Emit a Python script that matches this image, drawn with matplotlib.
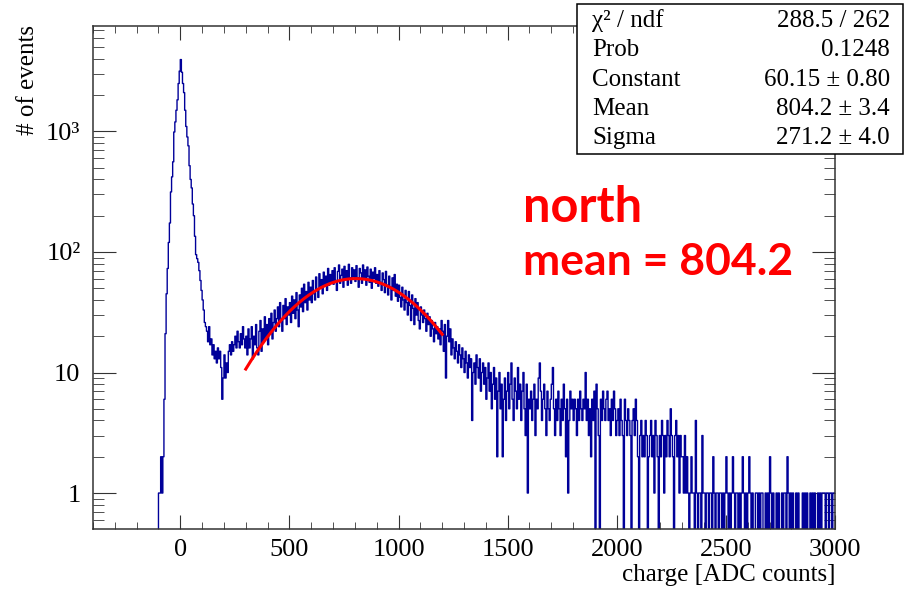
### PACKAGES ###
import numpy as np
import matplotlib
matplotlib.use('Agg')
import matplotlib.pyplot as plt
from matplotlib.ticker import MultipleLocator, LogLocator, FixedLocator, FixedFormatter, NullFormatter

### DATA ###
# histogram of charge, 5 ADC bins starting at -100
bin_start = -100
bin_width = 5
counts = [
    1, 1, 2, 1, 2, 6, 21, 45, 73, 120, 174, 315, 420, 560, 990, 1200, 1500, 1830, 2500, 3170,   # -100 .. 0
    3950, 3100, 2500, 2100, 1500, 1100, 900, 760, 520, 400, 340, 250, 200, 135, 95, 88, 82, 70, 58, 48,  # 0 .. 100
    40, 33, 26, 24, 22, 18, 24, 17, 19, 14, 17, 13, 15, 12, 16, 13, 15, 11, 6, 9,      # 100 .. 200
    14, 9, 12, 10, 15, 17, 14, 18, 15, 17, 20, 16, 22, 18, 16, 21, 17, 24, 19, 16,     # 200 .. 300
    20, 14, 23, 16, 19, 24, 13, 20, 17, 25, 16, 14, 22, 27, 15, 23, 18, 29, 19, 25,    # 300 .. 400
    17, 28, 21, 31, 19, 26, 33, 22, 28, 35, 24, 38, 27, 22, 36, 28, 41, 25, 35, 30,    # 400 .. 500
    38, 26, 43, 31, 40, 28, 46, 33, 24, 44, 35, 50, 32, 54, 38, 47, 33, 56, 40, 51,    # 500 .. 600
    38, 58, 45, 40, 62, 48, 42, 66, 50, 59, 45, 68, 52, 63, 48, 73, 53, 65, 55, 70,    # 600 .. 700
    54, 74, 58, 48, 69, 78, 55, 64, 72, 51, 76, 59, 70, 53, 79, 61, 55, 74, 62, 71,    # 700 .. 800
    57, 77, 61, 51, 73, 67, 55, 78, 60, 71, 53, 75, 63, 56, 72, 50, 68, 60, 74, 55,    # 800 .. 900
    65, 52, 70, 56, 48, 67, 59, 46, 69, 53, 44, 63, 51, 40, 61, 48, 65, 43, 54, 39,    # 900 .. 1000
    53, 42, 35, 51, 40, 33, 48, 38, 30, 47, 36, 27, 44, 34, 25, 41, 30, 38, 27, 23,    # 1000 .. 1100
    35, 30, 26, 33, 28, 22, 31, 25, 29, 20, 27, 23, 18, 26, 21, 24, 19, 23, 17, 27,    # 1100 .. 1200
    22, 15, 25, 9, 20, 27, 18, 23, 14, 19, 16, 13, 18, 15, 12, 17, 14, 11, 16, 13,     # 1200 .. 1300
    10, 15, 12, 9, 14, 11, 13, 4, 10, 12, 8, 14, 11, 9, 13, 7, 10, 12, 8, 11,          # 1300 .. 1400
    6, 9, 12, 7, 10, 5, 8, 11, 6, 9, 2, 7, 10, 5, 8, 2, 6, 9, 4, 7,                    # 1400 .. 1500
    10, 5, 8, 12, 6, 4, 9, 7, 5, 11, 6, 8, 4, 7, 10, 5, 3, 8, 1, 6,                    # 1500 .. 1600
    5, 7, 4, 6, 8, 3, 6, 5, 9, 12, 7, 4, 6, 8, 5, 3, 7, 5, 4, 6,                       # 1600 .. 1700
    8, 11, 5, 3, 6, 4, 7, 5, 3, 6, 4, 8, 5, 2, 6, 1, 4, 7, 5, 6,                       # 1700 .. 1800
    4, 6, 5, 3, 6, 4, 7, 5, 4, 6, 5, 10, 4, 6, 3, 5, 2, 6, 4, 7,                       # 1800 .. 1900
    0, 8, 5, 3, 0, 6, 4, 7, 5, 4, 6, 7, 4, 5, 3, 6, 4, 7, 5, 3,                        # 1900 .. 2000
    4, 5, 3, 6, 4, 3, 0, 6, 4, 3, 5, 4, 3, 0, 4, 5, 3, 6, 4, 2,                        # 2000 .. 2100
    0, 3, 4, 2, 3, 2, 4, 3, 0, 2, 3, 4, 2, 3, 1, 4, 3, 2, 0, 3,                        # 2100 .. 2200
    2, 4, 3, 1, 3, 2, 4, 3, 2, 5, 3, 2, 0, 3, 4, 2, 3, 1, 3, 2,                        # 2200 .. 2300
    2, 1, 3, 1, 2, 1, 0, 1, 2, 1, 1, 0, 4, 1, 0, 1, 1, 0, 3, 1,                        # 2300 .. 2400
    1, 0, 1, 1, 0, 1, 1, 0, 2, 1, 0, 1, 1, 0, 1, 1, 0, 1, 0, 1,                        # 2400 .. 2500
    2, 1, 0, 1, 0, 1, 2, 1, 0, 1, 1, 0, 1, 0, 1, 2, 1, 0, 1, 0,                        # 2500 .. 2600
    1, 2, 1, 0, 1, 0, 0, 1, 1, 0, 1, 0, 1, 1, 0, 0, 1, 0, 1, 0,                        # 2600 .. 2700
    2, 1, 0, 1, 0, 0, 1, 0, 1, 0, 0, 1, 0, 1, 1, 0, 2, 1, 0, 1,                        # 2700 .. 2800
    0, 1, 0, 0, 1, 0, 1, 0, 0, 0, 1, 0, 1, 0, 1, 0, 0, 1, 0, 1,                        # 2800 .. 2900
    0, 1, 0, 0, 1, 0, 1, 0, 1, 1, 1, 0, 1, 1, 0, 1, 1, 0, 1, 1,                        # 2900 .. 3000
]

# gaussian fit (values from the stats box)
fit_constant = 60.15
fit_mean = 804.2
fit_sigma = 271.2
fit_lo, fit_hi = 300, 1200

stats_names = ['χ² / ndf', 'Prob', 'Constant', 'Mean', 'Sigma']
stats_values = ['288.5 / 262', '0.1248', '60.15 ± 0.80', '804.2 ± 3.4', '271.2 ± 4.0']

ytick_vals = [1, 10, 100, 1000]
ytick_labels = ['1', '10', '10²', '10³']

### PLOT ###
serif = 'Liberation Serif'
W, H = 906, 589
fig = plt.figure(figsize=(W / 100, H / 100), dpi=100)
ax = fig.add_axes([93 / W, 1 - 529 / H, (835 - 93) / W, (529 - 26) / H])

edges = bin_start + bin_width * np.arange(len(counts) + 1)
xs = np.concatenate([[edges[0]], edges])
ys = np.concatenate([[0], counts, [counts[-1]]])
ax.step(xs, ys, where='post', color='#000099', lw=1.0)

xf = np.linspace(fit_lo, fit_hi, 300)
ax.plot(xf, fit_constant * np.exp(-0.5 * ((xf - fit_mean) / fit_sigma) ** 2),
        color='#ff0000', lw=2.2)

ax.set_yscale('log')
ax.set_xlim(-400, 3000)
ax.set_ylim(0.503, 7500)

ax.xaxis.set_major_locator(MultipleLocator(500))
ax.xaxis.set_minor_locator(MultipleLocator(100))
ax.yaxis.set_major_locator(FixedLocator(ytick_vals))
ax.yaxis.set_major_formatter(FixedFormatter(ytick_labels))
ax.yaxis.set_minor_locator(LogLocator(base=10, subs=range(2, 10)))
ax.yaxis.set_minor_formatter(NullFormatter())

ax.tick_params(which='both', direction='in', top=True, right=True, color='#333333')
ax.tick_params(axis='x', which='major', length=10, pad=7)
ax.tick_params(axis='x', which='minor', length=5)
ax.tick_params(axis='y', which='major', length=16.5, pad=9)
ax.tick_params(axis='y', which='minor', length=8)
for lab in ax.get_xticklabels() + ax.get_yticklabels():
    lab.set_fontfamily(serif)
    lab.set_fontsize(19)
for sp in ax.spines.values():
    sp.set_linewidth(1.1)
    sp.set_color('#333333')

fig.text(835 / W, 1 - 575 / H, 'charge [ADC counts]', ha='right', va='center',
         fontsize=18, family=serif)
fig.text(28 / W, 1 - 25 / H, '# of events', ha='center', va='top', rotation=90,
         fontsize=18, family=serif)

### STATS BOX ###
box = plt.Rectangle((577 / W, 1 - 154 / H), (903 - 577) / W, (154 - 4) / H,
                    transform=fig.transFigure, facecolor='white', edgecolor='black',
                    lw=1.1, zorder=5)
fig.patches.append(box)
for i, (name, val) in enumerate(zip(stats_names, stats_values)):
    yy = 1 - (21 + 29.3 * i) / H
    fig.text(592 / W, yy, name, ha='left', va='center', fontsize=18, family=serif, zorder=6)
    fig.text(890 / W, yy, val, ha='right', va='center', fontsize=18, family=serif, zorder=6)

### ANNOTATION ###
fig.text(523 / W, 1 - 222 / H, 'north', color='#ff0000', fontsize=35,
         fontweight='bold', family='Lato', ha='left', va='baseline')
fig.text(523 / W, 1 - 275 / H, 'mean = 804.2', color='#ff0000', fontsize=32,
         fontweight='bold', family='Lato', ha='left', va='baseline')

fig.savefig('out.png', dpi=100)
